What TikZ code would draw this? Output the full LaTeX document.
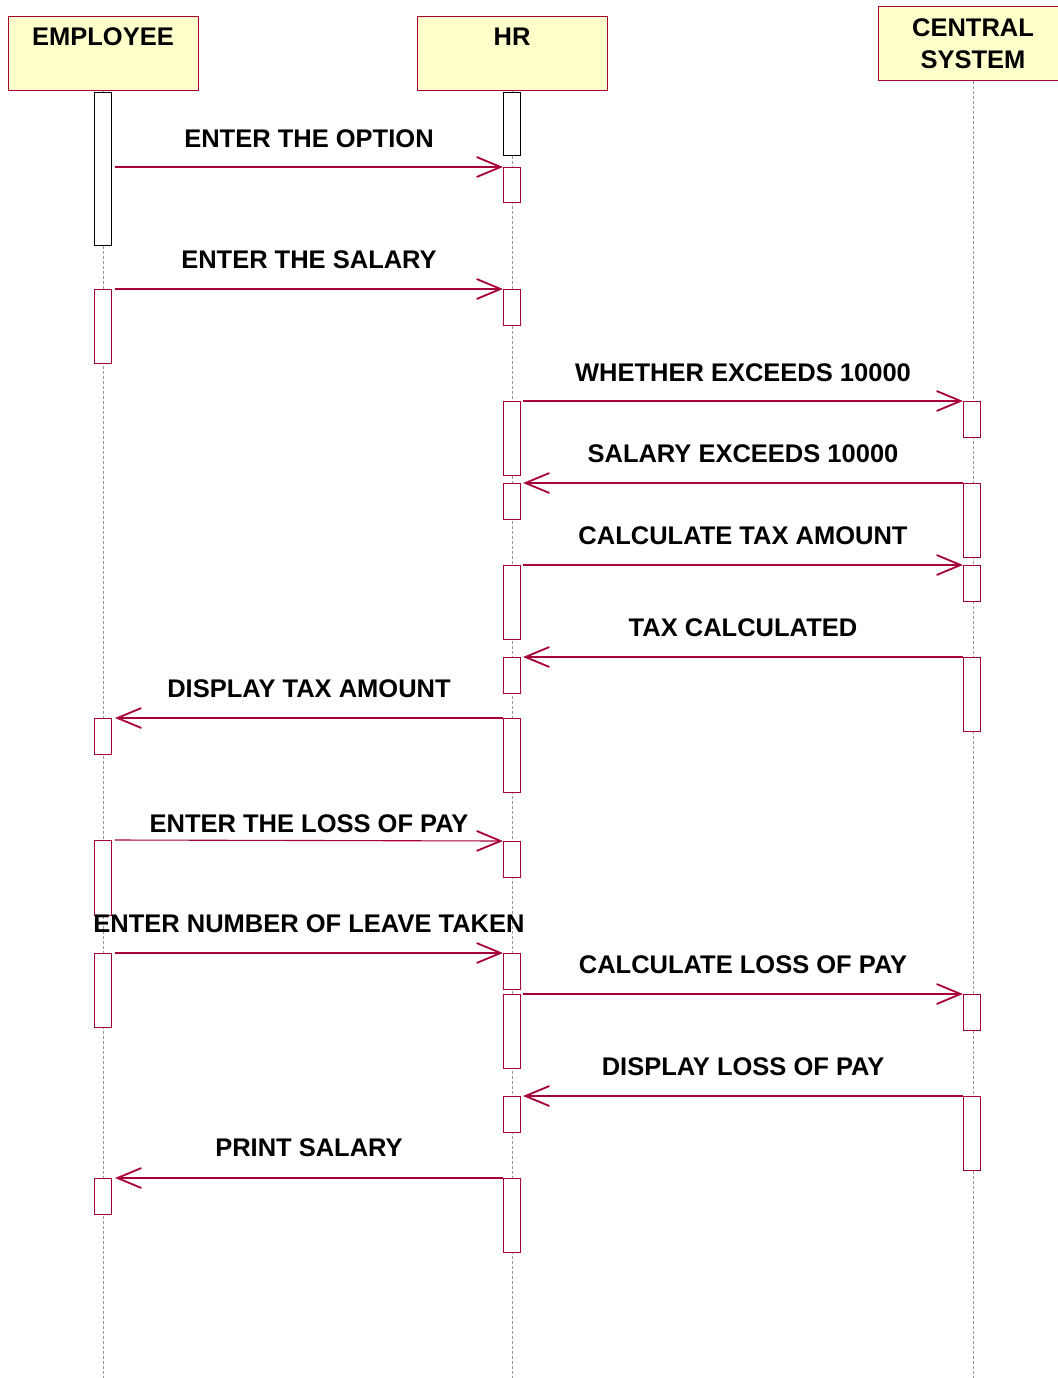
\documentclass[tikz,border=0pt]{standalone}
\usepackage{fontspec}
\setmainfont{Liberation Sans}
\usetikzlibrary{arrows.meta}

\definecolor{umlred}{RGB}{168,0,56}
\definecolor{umlyellow}{RGB}{255,255,204}
\definecolor{lifegray}{RGB}{150,150,150}
\newcommand{\lblfont}{\fontsize{25.5}{32}\selectfont\bfseries}

\tikzset{
  head/.style={draw=umlred, fill=umlyellow, line width=1pt, minimum width=190pt,
    minimum height=74pt, inner sep=0pt, anchor=north},
  life/.style={draw=lifegray, line width=1pt, dash pattern=on 3pt off 2pt},
  act/.style={draw=umlred, fill=white, line width=1.1pt, minimum width=17pt,
    inner sep=0pt, anchor=north},
  actblack/.style={act, draw=black},
  msg/.style={draw=umlred, line width=1.1pt,
    -{Straight Barb[length=24pt,width=20pt,line width=1.8pt]}},
  lbl/.style={anchor=base, font=\lblfont, inner sep=0pt},
}

\begin{document}
\begin{tikzpicture}[x=1pt, y=-1pt]
  \useasboundingbox (0,0) rectangle (1057,1378);

  % objects
  \node[head, label={[lbl, yshift=-30pt]north:EMPLOYEE}] (emp) at (103,16) {};
  \node[head, label={[lbl, yshift=-30pt]north:HR}] (hr) at (512,16) {};
  \node[head, align=center, font=\lblfont] (cs) at (973,6) {CENTRAL\\SYSTEM};

  % lifelines
  \draw[life] (emp.south) -- (emp.south |- 0,1378);
  \draw[life] (hr.south) -- (hr.south |- 0,1378);
  \draw[life] (cs.south) -- (cs.south |- 0,1378);

  % activations
  \node[actblack, minimum height=153pt] (e1) at (103,92) {};
  \node[actblack, minimum height=63pt] (h1) at (512,92) {};
  \foreach \name/\top/\len in {e2/289/74, e3/718/36, e4/840/75, e5/953/74, e6/1178/36}
    \node[act, minimum height=\len pt] (\name) at (103,\top) {};
  \foreach \name/\top/\len in {h2/167/35, h3/289/36, h4/401/74, h5/483/36, h6/565/74,
      h7/657/36, h8/718/74, h9/841/36, h10/953/36, h11/994/74, h12/1096/36, h13/1178/74}
    \node[act, minimum height=\len pt] (\name) at (512,\top) {};
  \foreach \name/\top/\len in {c1/401/36, c2/483/74, c3/565/36, c4/657/74,
      c5/994/36, c6/1096/74}
    \node[act, minimum height=\len pt] (\name) at (972,\top) {};

  % messages
  \draw[msg] ([xshift=3pt]e1.east |- h2.north) -- (h2.north west)
    node[lbl, midway, yshift=20pt] {ENTER THE OPTION};
  \draw[msg] ([xshift=3pt]e2.north east) -- (h3.north west)
    node[lbl, midway, yshift=21pt] {ENTER THE SALARY};
  \draw[msg] ([xshift=2pt]h4.north east) -- (c1.north west)
    node[lbl, midway, yshift=20pt] {WHETHER EXCEEDS 10000};
  \draw[msg] (c2.north west) -- ([xshift=2pt]h5.north east)
    node[lbl, midway, yshift=21pt] {SALARY EXCEEDS 10000};
  \draw[msg] ([xshift=2pt]h6.north east) -- (c3.north west)
    node[lbl, midway, yshift=21pt] {CALCULATE TAX AMOUNT};
  \draw[msg] (c4.north west) -- ([xshift=2pt]h7.north east)
    node[lbl, midway, yshift=21pt] {TAX CALCULATED};
  \draw[msg] (h8.north west) -- ([xshift=3pt]e3.north east)
    node[lbl, midway, yshift=21pt] {DISPLAY TAX AMOUNT};
  \draw[msg] ([xshift=3pt]e4.north east) -- (h9.north west)
    node[lbl, midway, yshift=8pt] {ENTER THE LOSS OF PAY};
  \draw[msg] ([xshift=3pt]e5.north east) -- (h10.north west)
    node[lbl, midway, yshift=21pt] {ENTER NUMBER OF LEAVE TAKEN};
  \draw[msg] ([xshift=2pt]h11.north east) -- (c5.north west)
    node[lbl, midway, yshift=21pt] {CALCULATE LOSS OF PAY};
  \draw[msg] (c6.north west) -- ([xshift=2pt]h12.north east)
    node[lbl, midway, yshift=21pt] {DISPLAY LOSS OF PAY};
  \draw[msg] (h13.north west) -- ([xshift=3pt]e6.north east)
    node[lbl, midway, yshift=22pt] {PRINT SALARY};
\end{tikzpicture}
\end{document}
